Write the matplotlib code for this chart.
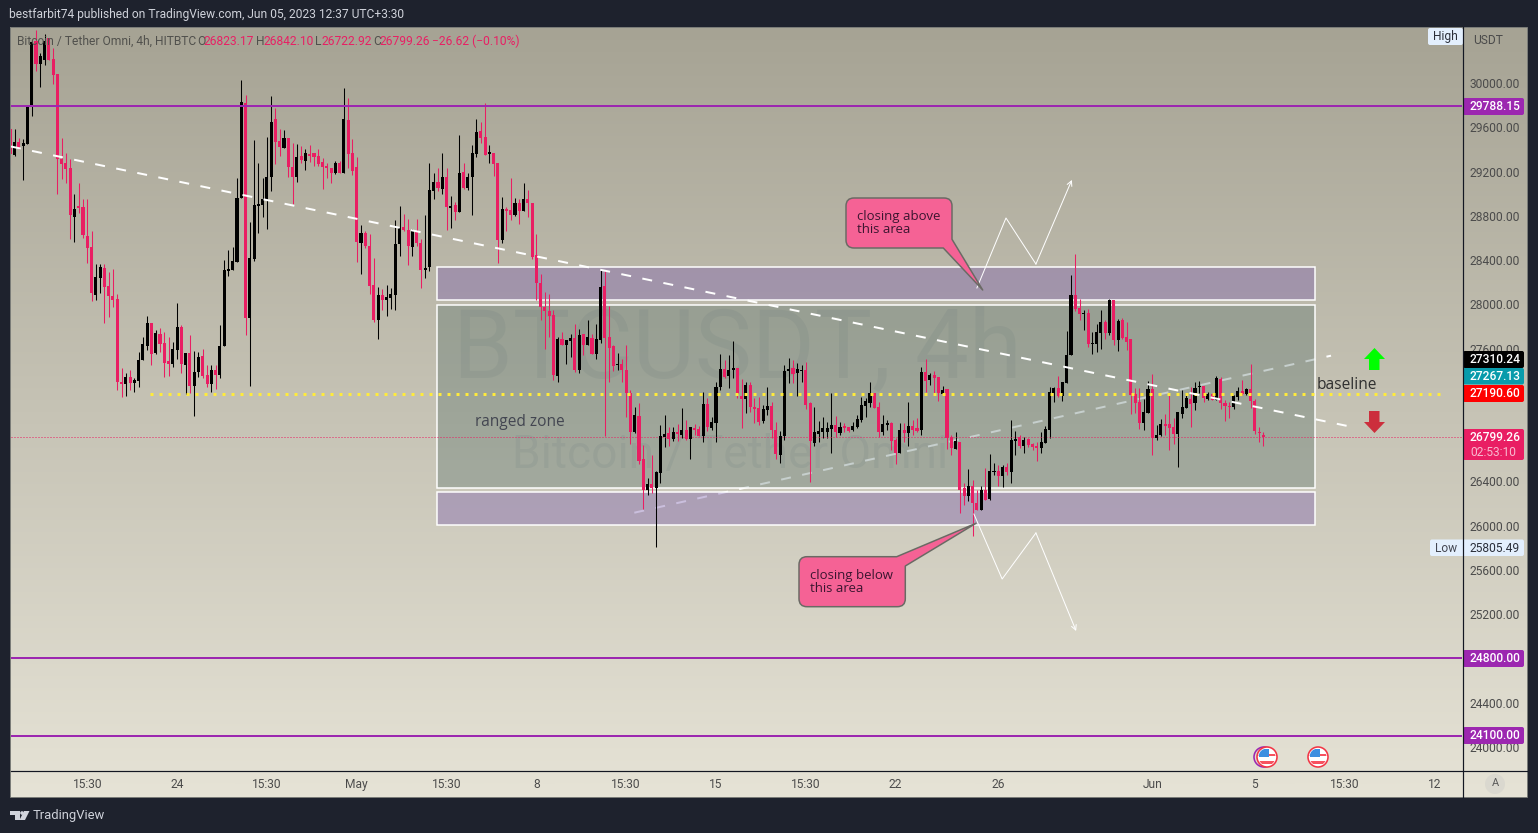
import numpy as np
import matplotlib
matplotlib.use("Agg")
import matplotlib.pyplot as plt
from matplotlib.path import Path
from matplotlib.patches import PathPatch, FancyBboxPatch, Circle, Rectangle, Polygon

# ---------------------------------------------------------------- data
highs = [
 29595,29580,29505,29496,29790,30375,30480,30270,30444,30405,30315,30084,29505,29370,29316,28995,29094,28950,28956,28659,
 28362,28362,28362,28290,28320,28095,27426,27375,27405,27330,27570,27705,27897,27834,27765,27786,27750,27705,27660,28014,
 27810,27564,27726,27576,27570,27600,27456,27456,27456,27816,28401,28491,28515,29139,30030,29895,28740,29481,29280,29145,
 29514,29886,29775,29586,29571,29499,29454,29445,29430,29400,29436,29364,29406,29325,29280,29235,29298,29295,29955,29865,
 29490,29334,28716,28665,28635,28416,28155,28140,28176,28146,28764,28890,
 28815,28770,28680,28770,28590,28806,29274,29184,29235,29370,29235,28980,28929,29526,29274,29190,29436,29679,29649,29820,
 29436,29370,29274,28968,28875,29139,28959,28956,29094,29031,28920,28635,28275,28110,28095,27945,27705,27750,27681,27735,
 27825,27774,27735,27861,27735,27825,28311,28311,27984,27630,27561,27504,27636,27225,27075,27105,26727,26430,26637,26490,
 26910,27000,26889,26895,26916,27060,26955,26889,26922,26904,27210,27150,26985,27300,27555,27501,27546,27672,27429,
 27321,27300,27300,27156,27159,27090,27249,27120,26934,26856,27456,27519,27495,27468,27456,27480,27120,27069,26943,26979,
 26940,27195,26988,26940,26925,26895,26940,27000,27165,27156,27294,27195,27120,27000,26955,26940,26796,26925,26925,27114,
 26955,26970,27435,27510,27375,27402,27345,27264,27231,26820,26850,26760,26385,26511,26409,26325,26358,26520,26646,26565,
 26550,26550,26565,26952,26856,26820,26799,26790,26745,26760,26850,26904,27255,27255,27354,27300,27762,28266,28455,28050,
 27951,27960,27750,27825,27951,27861,28050,28041,27870,27879,27840,27684,27240,27240,27141,27309,27366,26910,26961,27006,
 27195,26970,27030,27225,27195,27249,27300,27309,27255,27210,27195,27348,27339,27135,27120,27180,27255,27312,27240,27465,
 27141,26889,26842]
lows = [
 29259,29340,29400,29121,29445,29700,30105,29961,30165,30210,29994,28995,29130,29094,28590,28566,28824,28602,28374,28026,
 28035,28104,27834,27885,27975,27225,27162,27171,27225,27204,27252,27501,27585,27450,27555,27570,27339,27354,27435,27510,
 27375,27189,27195,26991,27345,27336,27255,27210,27234,27330,27621,28260,28314,28386,28959,27720,27261,28395,28644,28785,
 28680,29025,29265,29340,29409,29151,28905,29106,29280,29214,29289,29250,29250,29040,29145,29094,29175,29184,29184,29229,
 29169,28380,28275,28512,28095,27840,27690,27945,27891,27960,27945,28440,
 28665,28356,28440,28530,28146,28239,28305,28950,29025,28995,28674,28689,28764,28836,29046,29031,28806,29331,29454,29346,
 29274,29160,28374,28554,28665,28764,28800,28725,28842,28785,28410,28038,27855,27600,27705,27315,27294,27630,27465,27528,
 27390,27381,27540,27636,27555,27504,27654,26814,27300,27396,27411,27300,26979,26739,26835,26559,26151,26274,26295,25805,
 26385,26715,26721,26766,26769,26790,26775,26601,26820,26811,26760,26859,26865,26754,27225,27336,27240,27336,27150,
 26880,27015,27030,26925,26910,26925,27000,26790,26604,26565,26775,27285,27285,27171,27300,27051,26394,26721,26760,26790,
 26790,26655,26799,26820,26850,26850,26859,26886,26940,26985,27075,27060,26799,26820,26865,26685,26556,26655,26760,26724,
 26820,26850,26820,27210,27270,27195,27126,27180,26694,26640,26694,26115,26190,26220,25911,26145,26142,26235,26235,26454,
 26355,26349,26454,26385,26640,26700,26655,26715,26685,26586,26655,26745,26790,27120,27165,27126,27285,27540,27936,27861,
 27765,27615,27549,27570,27600,27690,27726,27636,27576,27690,27591,27009,27015,26874,26865,27015,26640,26775,26814,26820,
 26685,26739,26532,26970,27060,26889,27045,27195,27120,27135,27135,27132,27051,26946,26970,27054,27135,27180,27180,27060,
 26826,26760,26723]
body_tops = [
 29580,29469,29469,29454,29784,30366,30381,30240,30381,30405,30216,30084,29316,29280,29229,28860,28884,28875,28614,28518,
 28245,28335,28326,28164,28074,28050,27294,27339,27339,27312,27498,27642,27834,27834,27744,27735,27651,27492,27600,27795,
 27798,27564,27564,27390,27528,27534,27357,27411,27411,27627,28311,28320,28389,28959,29826,29820,28416,28896,28911,28950,
 29151,29646,29679,29472,29499,29499,29238,29328,29337,29364,29355,29364,29337,29286,29250,29229,29274,29280,29679,29670,
 29370,29238,28644,28644,28527,28176,28086,28086,28068,28095,28545,28689,
 28695,28671,28662,28662,28554,28326,29031,29103,29103,29154,29154,28887,28896,29190,29199,29154,29370,29553,29562,29508,
 29373,29370,29274,28860,28860,28851,28914,28914,28950,28950,28920,28443,28194,27978,27942,27906,27690,27690,27681,27699,
 27699,27726,27732,27708,27699,27690,28158,28167,27708,27621,27465,27465,27411,27195,26997,26988,26601,26376,26376,26484,
 26808,26826,26835,26844,26844,26862,26862,26889,26886,26871,27096,27096,26934,27249,27420,27420,27411,27429,27429,
 27174,27267,27267,27075,27060,27051,27078,27078,26862,26814,27393,27420,27429,27420,27411,27411,27105,26844,26853,26880,
 26880,26907,26907,26895,26898,26889,26898,26961,27087,27123,27195,27195,27069,26916,26925,26925,26772,26862,26865,26898,
 26898,26880,27384,27384,27357,27357,27339,27225,27231,26799,26763,26760,26340,26358,26358,26205,26322,26322,26493,26493,
 26493,26529,26529,26772,26781,26799,26772,26781,26736,26718,26754,26871,27204,27240,27240,27294,27546,28086,28086,27969,
 27924,27924,27654,27753,27843,27843,28041,28041,27852,27861,27708,27684,27186,27114,27024,27231,27231,26817,26916,26916,
 26916,26889,27024,27069,27150,27141,27240,27258,27258,27186,27186,27330,27321,27105,27078,27168,27213,27213,27231,27231,
 27123,26847,26823]
body_bottoms = [
 29355,29346,29415,29430,29445,29784,30174,30174,30210,30210,30075,29310,29265,29220,28806,28788,28866,28626,28509,28104,
 28080,28242,28161,28071,28041,27294,27279,27279,27285,27285,27306,27501,27627,27555,27564,27639,27474,27465,27465,27591,
 27459,27456,27264,27261,27384,27351,27276,27276,27360,27360,27621,28305,28314,28386,28959,27879,27879,28410,28887,28896,
 28941,29148,29466,29418,29415,29238,29148,29148,29307,29298,29340,29328,29265,29238,29229,29184,29184,29190,29190,29355,
 29208,28566,28554,28530,28170,27855,27855,28041,28041,28059,28086,28545,
 28674,28530,28518,28554,28311,28311,28341,29025,29052,29046,28878,28872,28836,28836,29055,29052,29148,29355,29499,29346,
 29358,29268,28581,28581,28839,28806,28806,28842,28842,28914,28425,28194,27978,27942,27897,27357,27348,27636,27636,27672,
 27408,27411,27636,27636,27555,27555,27681,27699,27609,27447,27450,27411,27195,26844,26844,26583,26322,26322,26340,26340,
 26475,26799,26781,26781,26826,26820,26781,26781,26862,26811,26811,26889,26880,26925,27249,27339,27348,27411,27186,
 27141,27141,27069,27051,26940,26943,27042,26862,26646,26640,26808,27393,27366,27375,27402,27090,26763,26745,26826,26844,
 26850,26871,26844,26838,26880,26859,26862,26889,26952,27078,27108,27060,26844,26844,26907,26763,26655,26655,26835,26835,
 26862,26856,26862,27303,27312,27330,27195,27192,26790,26700,26694,26322,26268,26268,26205,26142,26142,26232,26241,26484,
 26448,26448,26484,26484,26763,26718,26718,26727,26709,26700,26700,26745,26862,27195,27168,27168,27285,27540,27960,27915,
 27915,27645,27639,27639,27744,27744,27744,27681,27681,27699,27663,27177,27105,26925,26925,27015,26790,26790,26817,26898,
 26880,26826,26826,27006,27060,27096,27105,27249,27150,27141,27135,27132,27105,27078,27069,27069,27159,27186,27186,27123,
 26853,26835,26799]
candle_dirs = ("pbpbbbpbbp" "pppppbpppp" "bbpppppbpb" "bbbpbpppbb" "pbpbbppbpb"
               "bbbbbpbbbb" "bbppbppbpb" "ppppppbpbp" "ppbpppbpbb" "bbppbppbbb"
               "pbpbpbpbbb" "ppbppbppbp" "bpppppppbp" "bbpbpbpbbp" "ppbpppbppb"
               "pbbbpbpbpb" "ppbpbbbpbb" "ppbpppbbpp" "bbbpbbppbb" "bbbpbppbbb"
               "bbppbbppbp" "bppbpbppbp" "pbppbppbpb" "bpbpbbpbpp" "pbbbbpbbbp"
               "pbpbbbpbpb" "pppppbbpbb" "pppbbbpbbp" "bpbpppbbpb" "pppp")

price_ticks = [24000, 24400, 24800, 25200, 25600, 26000, 26400, 26800, 27200,
               27600, 28000, 28400, 28800, 29200, 29600, 30000]
time_tick_bars = [18, 39, 60, 81, 102, 123, 144, 165, 186, 207, 231, 267, 291, 312, 333]
time_tick_labels = ["15:30", "24", "15:30", "May", "15:30", "8", "15:30", "15", "15:30",
                    "22", "26", "Jun", "5", "15:30", "12"]

level_prices = [29788.15, 24800.00, 24100.00]
baseline_price = 27190.60
last_price = 26799.26

zone_bars = [99.7, 305.0]
zone_upper = [28035, 28333]
zone_range = [26336, 27998]
zone_lower = [26006, 26300]

down_trend_bars = [0.16, 313.7]
down_trend_prices = [29426, 26892]
up_trend_bars = [145.9, 308.8]
up_trend_prices = [26117, 27536]
baseline_bars = [32.7, 334.7]
up_path_bars = [226.0, 232.8, 239.8, 248.2]
up_path_prices = [28148, 28780, 28364, 29124]
down_path_bars = [225.3, 231.9, 239.8, 249.2]
down_path_prices = [26105, 25518, 25934, 25048]

FONT = "Roboto"
plt.rcParams["font.family"] = FONT
W, H = 1538, 833
DARK = "#1E222D"
PINK = "#E91E63"
PURPLE = "#9C27B0"
fig = plt.figure(figsize=(W / 100, H / 100), dpi=100, facecolor=DARK)
px = 0.72  # points per pixel at dpi 100


def fs(p):
    return p * px


# ---------------------------------------------------------------- panel background
bg = fig.add_axes([0, 0, 1, 1], zorder=0)
bg.axis("off")
top_col = np.array([166, 163, 148]) / 255
bot_col = np.array([230, 227, 214]) / 255
t = np.linspace(0, 1, 256)[:, None, None]
grad = top_col[None, None, :] * (1 - t) + bot_col[None, None, :] * t
bg.imshow(grad, extent=(10, 1527, 797, 27), aspect="auto", interpolation="bilinear")
bg.set_xlim(0, W)
bg.set_ylim(H, 0)
bg.text(737, 352, "BTCUSDT, 4h", fontsize=fs(96), color="#3f5568", alpha=0.085,
        ha="center", va="center")
bg.text(730, 455, "Bitcoin / Tether Omni", fontsize=fs(46), color="#3f5568", alpha=0.085,
        ha="center", va="center")

# ---------------------------------------------------------------- main axes
BAR0, BARW = 10.3, 4.277
ax = fig.add_axes([11 / W, 1 - 770 / H, (1462 - 11) / W, (770 - 27) / H], zorder=1)
ax.patch.set_alpha(0)
ax.set_xlim((11 - BAR0) / BARW, (1462 - BAR0) / BARW)
ax.set_ylim(23792, 30506)
for s in ax.spines.values():
    s.set_visible(False)
ax.yaxis.tick_right()
ax.set_yticks(price_ticks)
ax.set_yticklabels([f"{p:.2f}" for p in price_ticks], fontsize=fs(12), color="#4a4a4a")
ax.set_xticks(time_tick_bars)
ax.set_xticklabels(time_tick_labels, fontsize=fs(12), color="#4a4a4a")
ax.tick_params(axis="y", length=0, pad=8 * px)
ax.tick_params(axis="x", length=0, pad=8 * px)

bars = np.arange(len(highs))
highs_a, lows_a = np.array(highs), np.array(lows)
tops_a, bots_a = np.array(body_tops), np.array(body_bottoms)
colors = ["#000000" if d == "b" else PINK for d in candle_dirs]

# up trend line sits under the zones, which dim it
ax.plot(up_trend_bars, up_trend_prices, color="white", lw=2 * px,
        dashes=(5, 5.75), zorder=1, dash_capstyle="butt")


def zone(lo_hi, face, alpha):
    x0, x1 = zone_bars
    lo, hi = lo_hi
    ax.add_patch(Rectangle((x0, lo), x1 - x0, hi - lo, facecolor=face, alpha=alpha,
                           lw=0, zorder=2))
    ax.add_patch(Rectangle((x0, lo), x1 - x0, hi - lo, facecolor="none",
                           edgecolor="white", lw=1.5 * px, zorder=2.1))


zone(zone_upper, (124 / 255, 95 / 255, 172 / 255), 0.4)
zone(zone_range, (67 / 255, 97 / 255, 90 / 255), 0.3)
zone(zone_lower, (124 / 255, 95 / 255, 172 / 255), 0.4)

ax.vlines(bars, lows_a, highs_a, colors=colors, lw=1.05 * px, zorder=3)
ax.bar(bars, np.maximum(tops_a - bots_a, 9), bottom=bots_a, width=0.72, color=colors,
       lw=0, zorder=3.1)

ax.axhline(last_price, color=PINK, lw=1 * px, dashes=(1, 2), zorder=3)
for p in level_prices:
    ax.axhline(p, color=PURPLE, lw=2 * px, zorder=4)
ax.plot(baseline_bars, [baseline_price] * 2, color="#FFEB3B", lw=3 * px,
        dashes=(1, 2), dash_capstyle="butt", zorder=4)
ax.plot(down_trend_bars, down_trend_prices, color="white", lw=2 * px,
        dashes=(5, 5.75), dash_capstyle="butt", zorder=4)

for xs, ys in ((up_path_bars, up_path_prices), (down_path_bars, down_path_prices)):
    ax.plot(xs[:-1], ys[:-1], color="white", lw=1 * px, zorder=4)
    ax.annotate("", xy=(xs[-1], ys[-1]), xytext=(xs[-2], ys[-2]), zorder=4,
                arrowprops=dict(arrowstyle="->,head_length=0.35,head_width=0.18", color="white",
                                lw=1 * px, shrinkA=0, shrinkB=0))

# ---------------------------------------------------------------- overlay in figure pixels
ov = fig.add_axes([0, 0, 1, 1], zorder=2)
ov.patch.set_alpha(0)
ov.axis("off")
ov.set_xlim(0, W)
ov.set_ylim(H, 0)


def callout(verts_codes, tx, ty, l1, l2):
    verts, codes = zip(*verts_codes)
    ov.add_patch(PathPatch(Path(verts, codes), facecolor="#F56295", edgecolor="#6a6a64",
                           lw=1.5 * px, joinstyle="round"))
    ov.text(tx, ty[0], l1, fontsize=fs(13.2), color="#3b1530", va="center", family="Open Sans")
    ov.text(tx, ty[1], l2, fontsize=fs(13.2), color="#3b1530", va="center", family="Open Sans")


M, L, C, Z = Path.MOVETO, Path.LINETO, Path.CURVE3, Path.CLOSEPOLY
r = 8
x0, x1, y0, y1 = 846, 952, 198, 248
callout([((x0 + r, y0), M), ((x1 - r, y0), L), ((x1, y0), C), ((x1, y0 + r), C),
         ((x1, 239.3), L), ((982.7, 290), L), ((943.3, y1), L), ((x0 + r, y1), L),
         ((x0, y1), C), ((x0, y1 - r), C), ((x0, y0 + r), L), ((x0, y0), C), ((x0 + r, y0), C),
         ((x0 + r, y0), Z)], 857, (216, 229.5), "closing above", "this area")
x0, x1, y0, y1 = 799, 905.3, 556.7, 606.7
callout([((x0 + r, y0), M), ((896.7, y0), L), ((976, 523.3), L), ((x1, 566), L),
         ((x1, y1 - r), L), ((x1, y1), C), ((x1 - r, y1), C), ((x0 + r, y1), L),
         ((x0, y1), C), ((x0, y1 - r), C), ((x0, y0 + r), L), ((x0, y0), C), ((x0 + r, y0), C),
         ((x0 + r, y0), Z)], 810.5, (575, 589), "closing below", "this area")

ov.text(475, 422, "ranged zone", fontsize=fs(15.5), color="#434651", va="center", family="Open Sans")
ov.text(1317, 385, "baseline", fontsize=fs(15.5), color="#2f2f2f", va="center", family="Open Sans")

ov.add_patch(Polygon([(1374.5, 348), (1385, 359), (1379.5, 359), (1379.5, 370), (1369, 370),
                      (1369, 359), (1364, 359)], fc="#00FF00", lw=0))
ov.add_patch(Polygon([(1369, 411), (1379.5, 411), (1379.5, 422), (1385, 422), (1374.5, 433),
                      (1364, 422), (1369, 422)], fc="#CC2E3C", lw=0))

# panel frame and axis separators
ov.add_patch(Rectangle((10, 27), 1517, 770, fc="none", ec="#7a7c78", lw=1 * px))
ov.plot([11, 1527], [770.5, 770.5], color="#131722", lw=1.2 * px)
ov.plot([1462.5, 1462.5], [27, 797], color="#131722", lw=1.2 * px)


def tag(y0, y1, face, x0=1463, x1=1524):
    ov.add_patch(FancyBboxPatch((x0, y0), x1 - x0, y1 - y0, boxstyle="round,pad=0,rounding_size=2",
                                fc=face, lw=0))


def tag_text(y, s, color="white", weight="medium"):
    ov.text(1470, y, s, fontsize=fs(12), color=color, va="center", ha="left", weight=weight)


for ya, yb, col, s in [(98, 115, PURPLE, "29788.15"), (351, 368, "#000000", "27310.24"),
                       (368, 384.5, "#089BAB", "27267.13"), (385, 402, "#FF0000", "27190.60"),
                       (650, 667, PURPLE, "24800.00"), (727, 744, PURPLE, "24100.00")]:
    tag(ya, yb, col)
    tag_text((ya + yb) / 2, s)
tag(429, 460, PINK)
tag_text(437.5, "26799.26")
ov.text(1470, 452, "02:53:10", fontsize=fs(12), color="#F8BBD0", va="center", ha="left")
TAGLT = "#E3EFFD"
tag(539.5, 556, TAGLT, x0=1430)
ov.text(1446, 548, "Low", fontsize=fs(12), color="#434651", va="center", ha="center")
tag_text(548, "25805.49", color="#2a2e39", weight="normal")
tag(28, 45, TAGLT, x0=1428, x1=1463)
ov.text(1445, 36.5, "High", fontsize=fs(12), color="#2a2e39", va="center", ha="center")
ov.text(1473, 40.5, "USDT", fontsize=fs(12), color="#4a4a4a", va="center")

ov.add_patch(Circle((1495, 784), 10, fc="#DAD8CF", lw=0))
ov.text(1495, 783.5, "A", fontsize=fs(11), color="#555555", ha="center", va="center")

# header and legend
ov.text(9, 14, "bestfarbit74 published on TradingView.com, Jun 05, 2023 12:37 UTC+3:30",
        fontsize=fs(12), color="#D1D4DC", va="center")
LEG = "#50504c"
ov.text(17, 41.5, "Bitcoin / Tether Omni, 4h, HITBTC", fontsize=fs(12), color=LEG, va="center")
for x, key, xv, val in [(197, "O", 204, "26823.17"), (256, "H", 264, "26842.10"),
                        (315, "L", 321, "26722.92"), (373, "C", 380, "26799.26")]:
    ov.text(x, 41.5, key, fontsize=fs(12), color=LEG, va="center")
    ov.text(xv, 41.5, val, fontsize=fs(12), color=PINK, va="center")
ov.text(432, 41.5, "\u221226.62 (\u22120.10%)", fontsize=fs(12), color=PINK, va="center")


# event flags
def flag(cx, cy):
    c = Circle((cx, cy), 10, fc="white", ec="#F23645", lw=1.6 * px, zorder=5)
    ov.add_patch(c)
    inner = Circle((cx, cy), 8.5, transform=ov.transData)
    for (xy, w, h, col) in [((cx - 9, cy - 3), 18, 2, "#F7525F"), ((cx - 9, cy + 4), 18, 3, "#F7525F"),
                            ((cx - 8, cy - 8), 9.5, 8, "#3E8FE0")]:
        p = Rectangle(xy, w, h, fc=col, lw=0, zorder=6)
        ov.add_patch(p)
        p.set_clip_path(inner)


ov.add_patch(Circle((1264, 757), 10, fc="none", ec=PURPLE, lw=1.6 * px, zorder=4))
flag(1267, 757)
flag(1318, 757)

# footer logo
LOGO = "#D1D4DC"
ov.add_patch(Polygon([(10, 811), (20, 811), (20, 820), (15, 820), (15, 815), (10, 815)], fc=LOGO, lw=0))
ov.add_patch(Circle((22, 813), 1.8, fc=LOGO, lw=0))
ov.add_patch(Polygon([(24, 811), (29.5, 811), (25, 820), (19.5, 820)], fc=LOGO, lw=0))
ov.text(33, 815.5, "TradingView", fontsize=fs(13), color=LOGO, va="center")

fig.savefig("out.png", dpi=100, facecolor=DARK)
